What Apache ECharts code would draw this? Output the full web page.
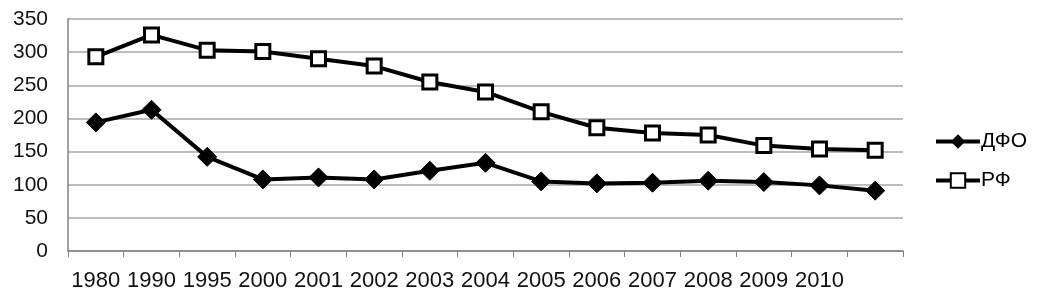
<!DOCTYPE html>
<html>
<head>
<meta charset="utf-8">
<script src="https://cdn.jsdelivr.net/npm/echarts@6/dist/echarts.min.js"></script>
<style>
  html, body { margin: 0; padding: 0; background: #fff; }
  #main { width: 1046px; height: 308px; }
</style>
</head>
<body>
<div id="main"></div>
<script>
// годы (последняя точка без подписи)
var years = ["1980", "1990", "1995", "2000", "2001", "2002", "2003", "2004",
  "2005", "2006", "2007", "2008", "2009", "2010", ""];
var dfo = [194, 213, 142, 108, 111, 108, 121, 133, 105, 102, 103, 106, 104, 99, 91];
var rf = [293, 326, 303, 301, 290, 279, 255, 240, 210, 186, 178, 175, 159, 154, 152];

var chart = echarts.init(document.getElementById("main"));

var option = {
  animation: false,
  textStyle: { fontFamily: "Liberation Sans, Arial, sans-serif" },
  grid: { left: 68, right: 143, top: 19, bottom: 57, containLabel: false },
  legend: {
    orient: "vertical",
    left: 929,
    top: 126,
    itemWidth: 44,
    itemHeight: 18,
    itemGap: 18,
    lineStyle: { width: 4, color: "#000" },
    textStyle: { fontSize: 21, color: "#000", padding: [0, 0, 0, -4] },
    data: ["ДФО", "РФ"]
  },
  xAxis: {
    type: "category",
    data: years,
    boundaryGap: true,
    axisLine: { lineStyle: { color: "#808080", width: 1.5 } },
    axisTick: { show: true, length: 6, interval: 0, lineStyle: { color: "#808080" } },
    axisLabel: { interval: 0, fontSize: 22, color: "#111", margin: 19 }
  },
  yAxis: {
    type: "value",
    min: 0,
    max: 350,
    interval: 50,
    axisLine: { show: true, lineStyle: { color: "#808080", width: 1.5 } },
    axisTick: { show: false },
    splitLine: { lineStyle: { color: "#a6a6a6", width: 1.5 } },
    axisLabel: { fontSize: 21, color: "#111", margin: 20 }
  },
  series: [
    {
      name: "ДФО",
      type: "line",
      data: dfo,
      symbol: "diamond",
      symbolSize: 19,
      lineStyle: { color: "#000", width: 4 },
      itemStyle: { color: "#000", borderColor: "#000" }
    },
    {
      name: "РФ",
      type: "line",
      data: rf,
      symbol: "rect",
      symbolSize: 14,
      lineStyle: { color: "#000", width: 4 },
      itemStyle: { color: "#fff", borderColor: "#000", borderWidth: 3 }
    }
  ]
};

chart.setOption(option);
</script>
</body>
</html>
